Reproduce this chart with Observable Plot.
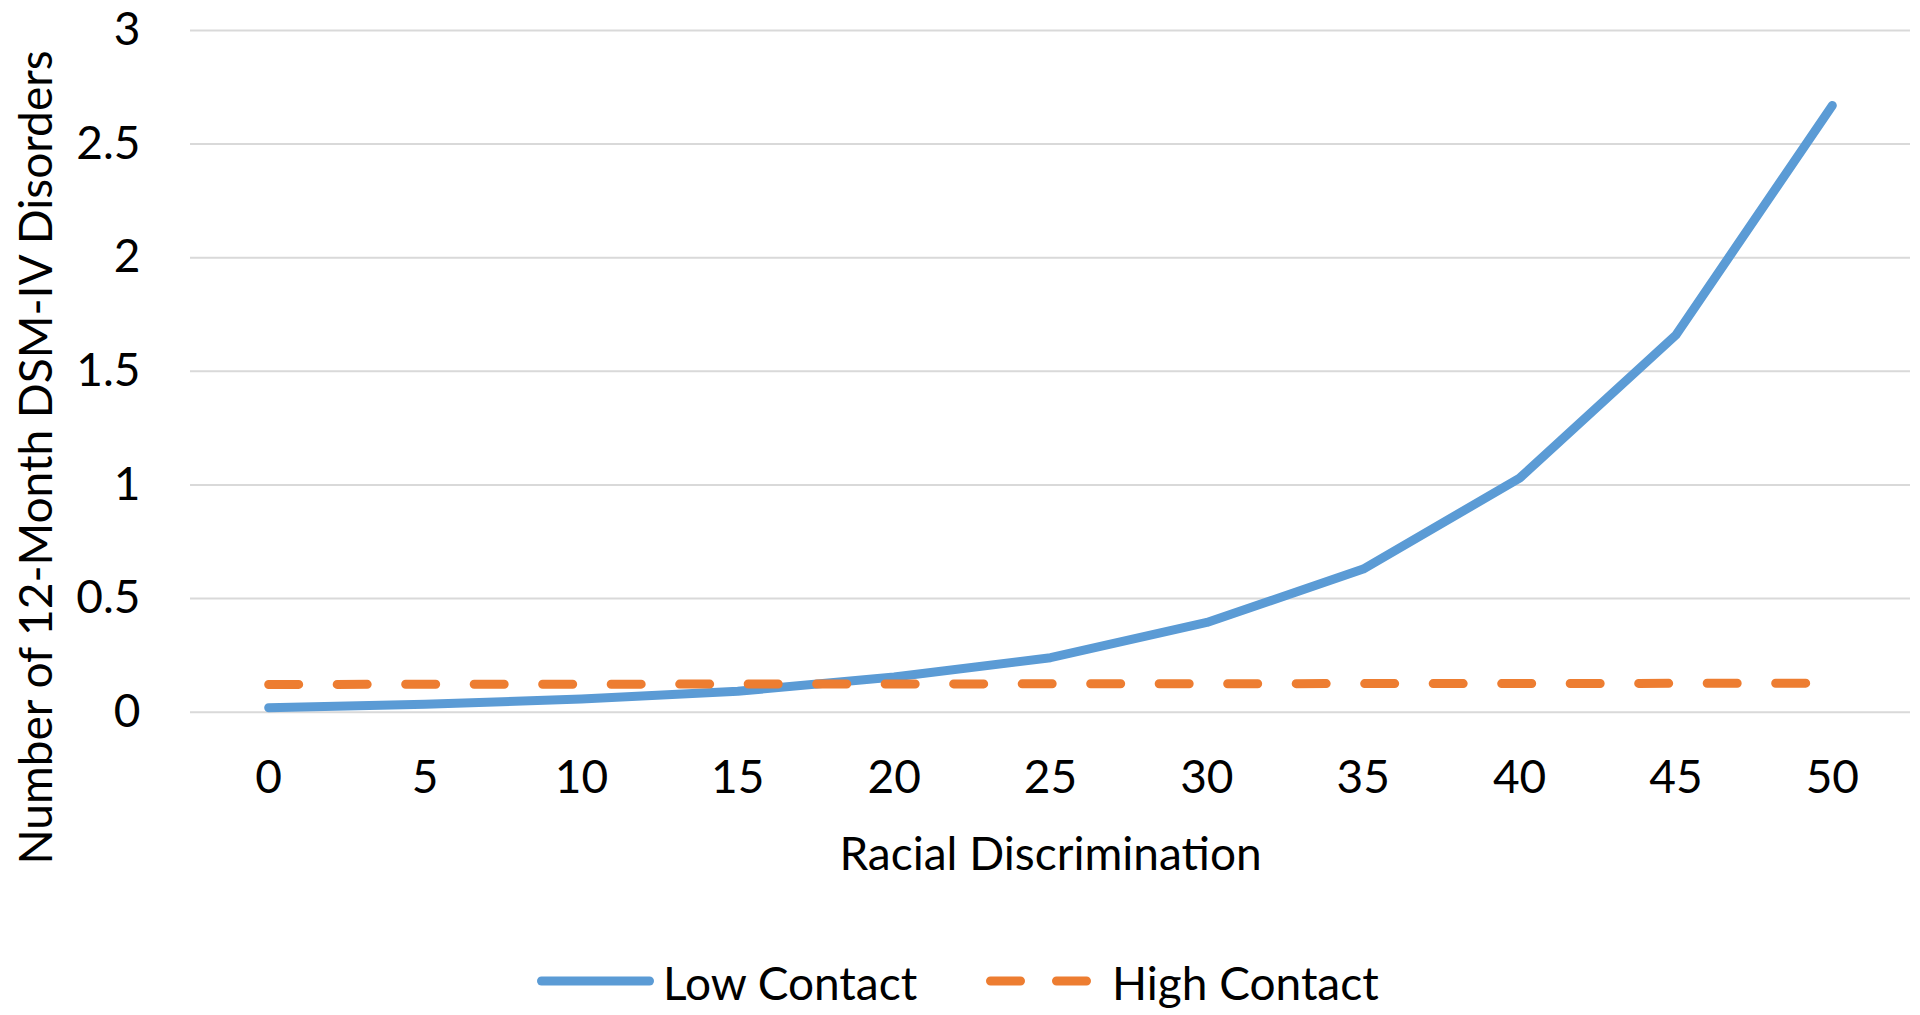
<!DOCTYPE html>
<html>
<head>
<meta charset="utf-8">
<script src="https://cdn.jsdelivr.net/npm/d3@7"></script>
<script src="https://cdn.jsdelivr.net/npm/@observablehq/plot@0.6"></script>
<style>
  html, body { margin: 0; padding: 0; background: #fff; overflow: hidden; }
  svg { display: block; }
</style>
</head>
<body>
<div id="chart"></div>
<script>
// ---- data ----
const racialDiscrimination = [0, 5, 10, 15, 20, 25, 30, 35, 40, 45, 50];
const lowContact  = [0.02, 0.035, 0.058, 0.092, 0.155, 0.24, 0.395, 0.63, 1.03, 1.66, 2.67];
const highContact = [0.122, 0.123, 0.123, 0.124, 0.124, 0.125, 0.125, 0.126, 0.126, 0.127, 0.128];
const seriesNames = ["Low Contact", "High Contact"];
const yTicks = [0, 0.5, 1, 1.5, 2, 2.5, 3];
const xTitle = "Racial Discrimination";
const yTitle = "Number of 12-Month DSM-IV Disorders";

// ---- derived tables ----
const lowData = racialDiscrimination.map((x, i) => ({x, y: lowContact[i], series: seriesNames[0]}));
const highData = racialDiscrimination.map((x, i) => ({x, y: highContact[i], series: seriesNames[1]}));

const FONT = "Lato, 'Open Sans', sans-serif";
const FS = 46;
const BLUE = "#5B9BD5";
const ORANGE = "#ED7D31";

const chart = Plot.plot({
  width: 1920,
  height: 930,
  marginTop: 30,
  marginBottom: 218.3,
  marginLeft: 190,
  marginRight: 10,
  x: {domain: [-2.5, 52.5]},
  y: {domain: [0, 3]},
  style: {fontFamily: FONT, fontSize: FS + "px", color: "#000", background: "#fff"},
  marks: [
    Plot.ruleY(yTicks, {stroke: "#d9d9d9", strokeWidth: 2}),
    Plot.axisY({ticks: yTicks, tickSize: 0, tickPadding: 50, tickFormat: d => String(d), label: null}),
    Plot.axisX({ticks: racialDiscrimination, tickSize: 0, tickPadding: 48.5, tickFormat: d => String(d), label: null}),
    Plot.line(lowData, {x: "x", y: "y", stroke: BLUE, strokeWidth: 9, strokeLinejoin: "round", strokeLinecap: "round"}),
    Plot.line(highData, {x: "x", y: "y", stroke: ORANGE, strokeWidth: 9, strokeLinecap: "round", strokeDasharray: "30,38.5"}),
    Plot.text([xTitle], {frameAnchor: "bottom", lineAnchor: "top", dy: 125.5, text: d => d, fill: "#000"}),
    Plot.text([yTitle], {frameAnchor: "left", textAnchor: "middle", lineAnchor: "middle", rotate: -90, dx: -153, dy: 86, text: d => d, fill: "#000"})
  ]
});
document.getElementById("chart").appendChild(chart);

// ---- legend (below the plot SVG) ----
const legend = d3.select("#chart").append("svg")
  .attr("width", 1920).attr("height", 85)
  .style("font-family", FONT).style("font-size", FS + "px");
const legendItems = [
  {name: seriesNames[0], color: BLUE, x1: 541.5, x2: 649.5, dash: null, tx: 663},
  {name: seriesNames[1], color: ORANGE, x1: 990.5, x2: 1088.5, dash: "30,36", tx: 1112}
];
legendItems.forEach(it => {
  const ln = legend.append("line")
    .attr("x1", it.x1).attr("x2", it.x2).attr("y1", 51).attr("y2", 51)
    .attr("stroke", it.color).attr("stroke-width", 9).attr("stroke-linecap", "round");
  if (it.dash) ln.attr("stroke-dasharray", it.dash);
  legend.append("text").attr("x", it.tx).attr("y", 70).attr("fill", "#000").text(it.name);
});
</script>
</body>
</html>
